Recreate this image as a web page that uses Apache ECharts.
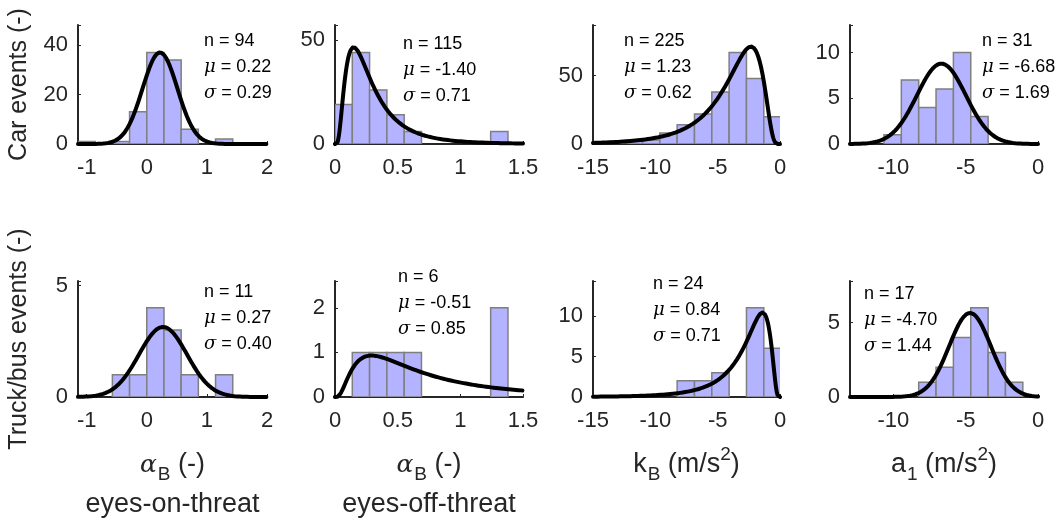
<!DOCTYPE html>
<html>
<head>
<meta charset="utf-8">
<script src="https://cdn.jsdelivr.net/npm/echarts@6/dist/echarts.min.js"></script>
<style>
html, body { margin: 0; padding: 0; background: #fff; }
#main { width: 1063px; height: 523px; }
</style>
</head>
<body>
<div id="main"></div>
<script>
// histogram bin edges (one set per column)
const edgesAlphaOn = [-1.144, -0.858, -0.572, -0.286, 0, 0.286, 0.572, 0.858, 1.144, 1.43];
const edgesAlphaOff = [0, 0.138, 0.276, 0.414, 0.552, 0.69, 0.828, 0.966, 1.104, 1.242, 1.38];
const edgesKB = [-13.81, -12.42, -11.03, -9.64, -8.25, -6.86, -5.47, -4.08, -2.69, -1.30, 0.09];
const edgesA1 = [-10.65, -9.45, -8.25, -7.05, -5.85, -4.65, -3.45, -2.25, -1.05];

// counts per bin, car events (top row)
const carAlphaOn = [1, 0, 1, 13, 37, 34, 6, 0, 2];
const carAlphaOff = [19, 44, 26, 14, 6, 0, 0, 0, 0, 6];
const carKB = [2, 3, 3, 8, 14, 22, 38, 67, 48, 20];
const carA1 = [1, 7, 4, 6, 10, 3, 0, 0];

// counts per bin, truck/bus events (bottom row)
const truckAlphaOn = [0, 0, 1, 1, 4, 3, 1, 0, 1];
const truckAlphaOff = [0, 1, 1, 1, 1, 0, 0, 0, 0, 2];
const truckKB = [0, 0, 0, 0, 2, 2, 3, 0, 11, 6];
const truckA1 = [0, 0, 1, 2, 4, 6, 3, 1];

// fitted distributions as printed in each panel (car row, then truck row)
const fitN = [94, 115, 225, 31, 11, 6, 24, 17];
const fitMu = [0.22, -1.40, 1.23, -6.68, 0.27, -0.51, 0.84, -4.70];
const fitSigma = [0.29, 0.71, 0.62, 1.69, 0.40, 0.85, 0.71, 1.44];
const fitType = ['normal', 'lognormal', 'neglognormal', 'normal'];

// axes
const xRanges = [[-1.144, 2], [0, 1.5], [-15, 0], [-13, 0]];
const xTicks = [[-1, 0, 1, 2], [0, 0.5, 1, 1.5], [-15, -10, -5, 0], [-10, -5, 0]];
const yTicks = [[0, 20, 40], [0, 50], [0, 50], [0, 5, 10], [0, 5], [0, 1, 2], [0, 5, 10], [0, 5]];

const rowLabels = ['Car events (-)', 'Truck/bus events (-)'];
const colLabels = ['{g|α}{sub|B} (-)', '{g|α}{sub|B} (-)', 'k{sub|B} (m/s{sup|2})', 'a{sub|1} (m/s{sup|2})'];
const condLabels = ['eyes-on-threat', 'eyes-off-threat', '', ''];

const panelEdges = [edgesAlphaOn, edgesAlphaOff, edgesKB, edgesA1];
const panelCounts = [carAlphaOn, carAlphaOff, carKB, carA1, truckAlphaOn, truckAlphaOff, truckKB, truckA1];

// layout
const lefts = [78, 335, 593, 850];
const widths = [189, 188, 187, 188];
const tops = [25, 281];
const heights = [119, 116];
const textPos = [[204, 28], [403, 31], [624, 28], [982, 28], [204, 279], [398, 264], [653, 271], [864, 281]];

const FONT = '"Liberation Sans", Arial, Helvetica, sans-serif';
const INK = '#262626';

function density(type, x, mu, s) {
    const k = 1 / (s * Math.sqrt(2 * Math.PI));
    if (type === 'normal') return k * Math.exp(-(x - mu) * (x - mu) / (2 * s * s));
    const v = type === 'neglognormal' ? -x : x;
    if (v <= 0) return 0;
    const l = Math.log(v) - mu;
    return k / v * Math.exp(-l * l / (2 * s * s));
}

const near = (list, v) => list.some(t => Math.abs(t - v) < 1e-6);

const grid = [], xAxis = [], yAxis = [], series = [], graphic = [];

for (let p = 0; p < 8; p++) {
    const row = Math.floor(p / 4), col = p % 4;
    const edges = panelEdges[col];
    const counts = panelCounts[p];
    const [xmin, xmax] = xRanges[col];
    const xstep = xTicks[col][1] - xTicks[col][0];
    const ystep = yTicks[p][1] - yTicks[p][0];
    const ymax = 1.3 * Math.max(...counts);

    grid.push({ left: lefts[col], top: tops[row], width: widths[col], height: heights[row], outerBoundsMode: 'none' });

    const xa = {
        type: 'value', gridIndex: p, min: xmin, max: xmax,
        axisLine: { onZero: false, lineStyle: { color: INK, width: 2 } },
        axisTick: { inside: true, length: 3, lineStyle: { color: INK } },
        splitLine: { show: false },
        axisLabel: {
            color: INK, fontSize: 22, fontFamily: FONT, margin: 13,
            showMinLabel: true, showMaxLabel: true,
            formatter: v => near(xTicks[col], v) ? String(+v.toFixed(2)) : ''
        }
    };
    const ratio = (xmin / xstep);
    if (Math.abs(ratio - Math.round(ratio)) < 1e-6) xa.interval = xstep;
    else xa.splitNumber = Math.round((xmax - xmin) / xstep);
    xAxis.push(xa);

    yAxis.push({
        type: 'value', gridIndex: p, min: 0, max: ymax, interval: ystep,
        axisLine: { show: true, onZero: false, lineStyle: { color: INK, width: 2 } },
        axisTick: { show: true, inside: true, length: 3, lineStyle: { color: INK } },
        splitLine: { show: false },
        axisLabel: {
            color: INK, fontSize: 22, fontFamily: FONT, margin: 10,
            formatter: v => near(yTicks[p], v) ? String(v) : ''
        }
    });

    // histogram bars
    const bins = [];
    counts.forEach((c, i) => { if (c > 0) bins.push([edges[i], edges[i + 1], c]); });
    series.push({
        type: 'custom', xAxisIndex: p, yAxisIndex: p, clip: true, z: 2,
        data: bins,
        encode: { x: [0, 1], y: 2 },
        renderItem: (params, api) => {
            const a = api.coord([api.value(0), api.value(2)]);
            const b = api.coord([api.value(1), 0]);
            return {
                type: 'rect',
                shape: { x: a[0], y: a[1], width: b[0] - a[0], height: b[1] - a[1] },
                style: { fill: '#b3b3ff', stroke: '#7f7f7f', lineWidth: 1.5 }
            };
        }
    });

    // fitted density, scaled to counts (n * bin width)
    const type = fitType[col];
    const scale = fitN[p] * (edges[1] - edges[0]);
    const curve = [];
    for (let i = 0; i <= 300; i++) {
        const x = xmin + (xmax - xmin) * i / 300;
        curve.push([x, scale * density(type, x, fitMu[p], fitSigma[p])]);
    }
    series.push({
        type: 'line', xAxisIndex: p, yAxisIndex: p, data: curve, showSymbol: false,
        symbol: 'none', clip: true, z: 3, silent: true,
        lineStyle: { color: '#000', width: 4, cap: 'round', join: 'round' }
    });

    graphic.push({
        type: 'text', left: textPos[p][0], top: textPos[p][1],
        style: {
            text: 'n = ' + fitN[p] + '\n{i|μ} = ' + fitMu[p].toFixed(2) + '\n{i|σ} = ' + fitSigma[p].toFixed(2),
            font: '18px ' + FONT, fill: '#000', lineHeight: 26,
            rich: { i: { fontStyle: 'italic', fontSize: 18, fontFamily: '"DejaVu Serif", serif', lineHeight: 26 } }
        }
    });
}

// row labels
rowLabels.forEach((t, r) => {
    graphic.push({
        type: 'text', x: 19, y: tops[r] + heights[r] / 2, rotation: Math.PI / 2,
        style: { text: t, font: '25px ' + FONT, fill: INK, align: 'center', verticalAlign: 'middle' }
    });
});

// column labels
colLabels.forEach((t, c) => {
    const cx = lefts[c] + widths[c] / 2;
    graphic.push({
        type: 'text', x: cx, y: 465,
        style: {
            text: t, font: '27px ' + FONT, fill: INK, align: 'center', verticalAlign: 'middle',
            rich: {
                g: { fontStyle: 'italic', fontSize: 25, fontFamily: '"DejaVu Serif", serif' },
                sub: { fontSize: 19, fontFamily: FONT, padding: [20, 0, 0, 1] },
                sup: { fontSize: 19, fontFamily: FONT, padding: [0, 0, 20, 0] }
            }
        }
    });
    if (condLabels[c]) {
        graphic.push({
            type: 'text', x: cx, y: 505,
            style: { text: condLabels[c], font: '27px ' + FONT, fill: INK, align: 'center', verticalAlign: 'middle' }
        });
    }
});

const chart = echarts.init(document.getElementById('main'), null, { renderer: 'canvas' });
chart.setOption({
    backgroundColor: '#fff',
    animation: false,
    grid: grid,
    xAxis: xAxis,
    yAxis: yAxis,
    series: series,
    graphic: graphic
});
</script>
</body>
</html>
